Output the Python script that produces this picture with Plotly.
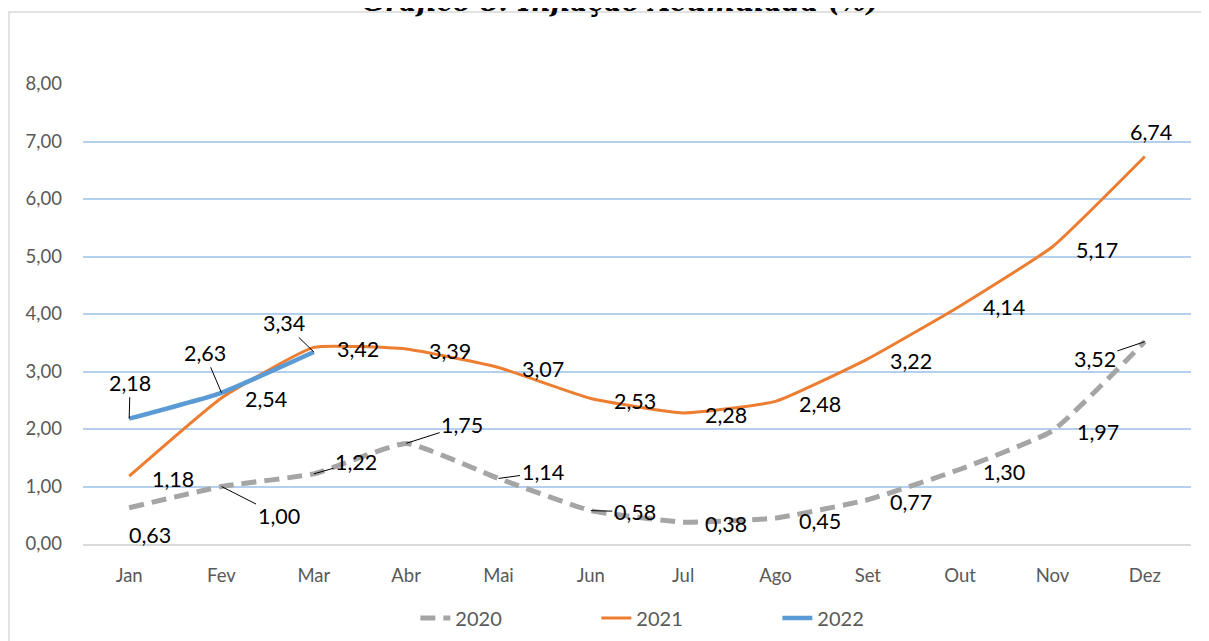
import plotly.graph_objects as go

months = ["Jan", "Fev", "Mar", "Abr", "Mai", "Jun", "Jul", "Ago", "Set", "Out", "Nov", "Dez"]
v2020 = [0.63, 1.00, 1.22, 1.75, 1.14, 0.58, 0.38, 0.45, 0.77, 1.30, 1.97, 3.52]
v2021 = [1.18, 2.54, 3.42, 3.39, 3.07, 2.53, 2.28, 2.48, 3.22, 4.14, 5.17, 6.74]
v2022 = [2.18, 2.63, 3.34]
yticks = [0, 1, 2, 3, 4, 5, 6, 7, 8]

# label placement (pixel offsets of label centre from point) and leader-line flags
off2020 = [(21, 27), (57, 29), (42, -12), (56, -18), (44, -6), (44, 1), (43, 2), (44, 3), (43, 2), (44, 3), (45, 1), (-50, 17)]
lead2020 = [False, True, True, True, True, True, False, False, False, False, False, True]
off2021 = [(44, 3), (44, 1), (44, 2), (44, 2), (44, 2), (44, 2), (43, 2), (44, 3), (43, 2), (44, 1), (44, 3), (6, -24)]
lead2021 = [False] * 12
off2022 = [(1, -36), (-17, -40), (-30, -29)]
lead2022 = [True, True, True]

C2020, C2021, C2022 = "#A5A5A5", "#ED7D31", "#5B9BD5"
FONT = "Lato, Liberation Sans, sans-serif"
SMOOTH = 0.4

fig = go.Figure()
fig.add_trace(go.Scatter(x=months, y=v2020, name="2020", mode="lines",
                         line=dict(color=C2020, width=5, dash="15px,8px", shape="spline", smoothing=SMOOTH)))
fig.add_trace(go.Scatter(x=months, y=v2021, name="2021", mode="lines",
                         line=dict(color=C2021, width=3, shape="spline", smoothing=SMOOTH)))
fig.add_trace(go.Scatter(x=months[:len(v2022)], y=v2022, name="2022", mode="lines",
                         line=dict(color=C2022, width=4.5, shape="spline", smoothing=SMOOTH)))

def fmt(v):
    return f"{v:.2f}".replace(".", ",")

annotations = []
for vals, offs, leads in [(v2020, off2020, lead2020), (v2021, off2021, lead2021), (v2022, off2022, lead2022)]:
    for i, v in enumerate(vals):
        dx, dy = offs[i]
        annotations.append(dict(
            x=months[i], y=v, xref="x", yref="y", text=fmt(v),
            showarrow=True, ax=dx, ay=dy, arrowhead=0, arrowwidth=1,
            arrowcolor="#000000" if leads[i] else "rgba(0,0,0,0)",
            font=dict(family=FONT, size=21.5, color="#000000"),
        ))

annotations.append(dict(
    x=0.485, y=1.141, xref="paper", yref="paper", xanchor="center", yanchor="bottom",
    text="<b><i>Gráfico 8: Inflação Acumulada (%)</i></b>", showarrow=False,
    font=dict(family="DejaVu Serif, serif", size=27, color="#000000"),
))

fig.update_layout(
    width=1209, height=641,
    margin=dict(l=75, r=26, t=76, b=105),
    paper_bgcolor="white", plot_bgcolor="white",
    showlegend=True,
    legend=dict(orientation="h", x=0.545, xanchor="center", y=-0.161, yanchor="middle",
                font=dict(family=FONT, size=20, color="#595959"),
                entrywidth=136, entrywidthmode="pixels"),
    annotations=annotations,
    shapes=[dict(type="rect", xref="paper", yref="paper", x0=-0.0668, x1=1.2, y0=-0.6, y1=1.1565,
                 line=dict(color="#D9D9D9", width=1.5), fillcolor="rgba(0,0,0,0)", layer="below")],
)
fig.update_xaxes(type="category", range=[-0.5, 11.5], showgrid=False, showline=True,
                 linecolor="#D9D9D9", linewidth=1.5, ticks="", ticklabelstandoff=14,
                 tickfont=dict(family=FONT, size=18.5, color="#595959"))
fig.update_yaxes(range=[0, 8], tickvals=yticks, ticktext=[fmt(t) for t in yticks],
                 showgrid=True, gridcolor="#B4D0EE", gridwidth=1.5, zeroline=False,
                 ticks="", ticklabelstandoff=20,
                 tickfont=dict(family=FONT, size=18.5, color="#595959"))

fig.write_html("out.html")
